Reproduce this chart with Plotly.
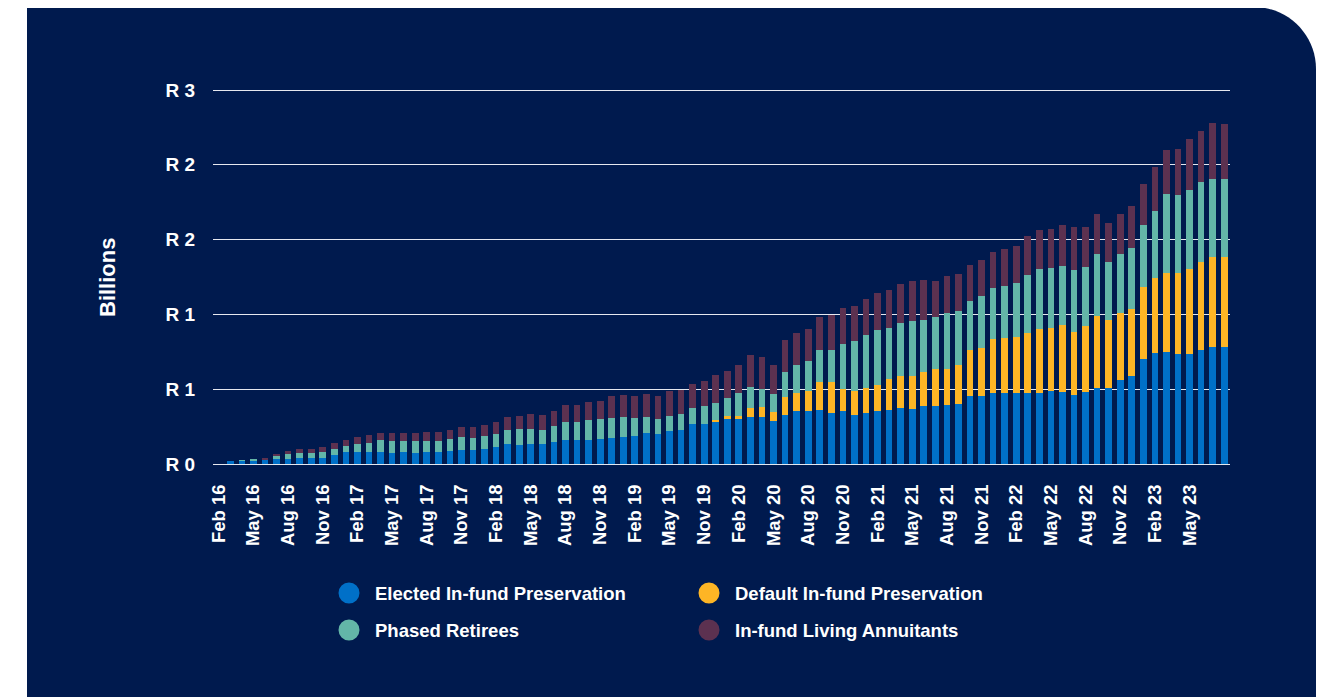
import plotly.graph_objects as go

# ---------------- data ----------------
month_names = ["Jan", "Feb", "Mar", "Apr", "May", "Jun", "Jul", "Aug", "Sep", "Oct", "Nov", "Dec"]
all_months = [f"{m} {y}" for y in range(16, 24) for m in month_names]
missing = ["Aug 19", "Sep 19", "Oct 19"]
categories = [c for c in all_months[all_months.index("Feb 16"):all_months.index("Aug 23") + 1] if c not in missing]

elected = [0, .022, .02, .02, .027, .033, .033, .042, .04, .042,
           .06, .082, .082, .082, .082, .076, .082, .076, .082, .082,
           .087, .091, .091, .098, .111, .131, .127, .131, .136, .147,
           .158, .158, .158, .165, .172, .18, .185, .205, .203, .221,
           .227, .265, .27, .287, .303, .307, .314, .314, .287, .325,
           .352, .357, .363, .343, .352, .325, .339, .352, .363, .377,
           .37, .39, .39, .397, .403, .457, .457, .472, .472, .477,
           .472, .477, .49, .483, .463, .483, .51, .51, .564, .59,
           .7, .744, .751, .738, .738, .764, .784, .784]

default = [0, 0, 0, 0, 0, 0, 0, 0, 0, 0,
           0, 0, 0, 0, 0, 0, 0, 0, 0, 0,
           0, 0, 0, 0, 0, 0, 0, 0, 0, 0,
           0, 0, 0, 0, 0, 0, 0, 0, 0, 0,
           0, 0, 0, .007, .016, .011, .058, .067, .058, .125,
           .125, .129, .187, .207, .149, .165, .172, .174, .207, .214,
           .221, .227, .247, .241, .261, .307, .321, .361, .368, .37,
           .401, .423, .417, .443, .417, .437, .477, .45, .443, .448,
           .486, .501, .528, .541, .564, .588, .602, .599]

phased = [0, 0, .005, .013, .004, .027, .033, .031, .033, .04,
          .04, .038, .053, .06, .078, .078, .071, .078, .071, .074,
          .078, .089, .082, .087, .087, .096, .107, .102, .094, .105,
          .12, .12, .136, .134, .134, .134, .12, .109, .098, .102,
          .107, .107, .118, .114, .12, .156, .14, .12, .12, .167,
          .187, .205, .214, .214, .303, .334, .348, .372, .341, .354,
          .368, .348, .348, .374, .361, .328, .348, .345, .352, .365,
          .392, .406, .406, .399, .419, .399, .419, .392, .399, .408,
          .414, .448, .528, .517, .528, .53, .521, .524]

annuitants = [0, 0, 0, 0, .01, .007, .02, .027, .027, .031,
              .042, .04, .045, .051, .049, .056, .056, .056, .06, .06,
              .062, .067, .073, .078, .082, .089, .089, .102, .1, .1,
              .116, .116, .12, .123, .147, .145, .152, .152, .154, .163,
              .16, .16, .167, .185, .18, .185, .214, .212, .2, .214,
              .214, .214, .221, .234, .241, .234, .247, .247, .254, .261,
              .261, .267, .241, .247, .247, .241, .241, .241, .247, .247,
              .261, .261, .261, .274, .287, .267, .267, .261, .267, .281,
              .274, .294, .294, .312, .341, .345, .374, .368]

series_names = ["Elected In-fund Preservation", "Default In-fund Preservation",
                "Phased Retirees", "In-fund Living Annuitants"]
series_colors = ["#0070C8", "#FDB525", "#63B6A8", "#5C3150"]

y_tickvals = [0, 0.5, 1.0, 1.5, 2.0, 2.5]
y_ticktext = ["R 0", "R 1", "R 1", "R 2", "R 2", "R 3"]
x_tickvals = categories[:85:3]

# ---------------- layout geometry (screen pixels; page body has an 8px margin) ----------------
OFF = 8
FW, FH = 1329 - OFF, 697 - OFF
L, R, T, B = 213, 1230, 88, 466          # plot area in screen pixels (range padded slightly)
W, H = R - L, B - T
NAVY = "#001A4E"
FONT = "Liberation Sans, Arial, sans-serif"


def px(x):
    return (x - L) / W


def py(y):
    return (B - y) / H


fig = go.Figure()
for name, vals, col in zip(series_names, [elected, default, phased, annuitants], series_colors):
    fig.add_trace(go.Bar(x=categories, y=vals, name=name, marker=dict(color=col, line=dict(width=0)),
                         showlegend=False))

# panel with rounded top-right corner
x0, x1, y0, y1, r = 27, 1316, 7, 720, 62
path = (f"M {px(x0)},{py(y1)} L {px(x0)},{py(y0)} L {px(x1 - r)},{py(y0)} "
        f"C {px(x1 - r * 0.45)},{py(y0)} {px(x1)},{py(y0 + r * 0.45)} {px(x1)},{py(y0 + r)} "
        f"L {px(x1)},{py(y1)} Z")
shapes = [dict(type="path", xref="paper", yref="paper", path=path, fillcolor=NAVY,
               line=dict(width=0), layer="below")]

annotations = [dict(text="Billions", xref="paper", yref="paper", x=px(107), y=py(278),
                    textangle=-90, showarrow=False, xanchor="center", yanchor="middle",
                    font=dict(family=FONT, size=22, color="white", weight="bold"))]

legend_pos = [(349, 593), (709, 593), (349, 630), (709, 630)]
for (cx, cy), name, col in zip(legend_pos, series_names, series_colors):
    rad = 10.5
    shapes.append(dict(type="circle", xref="paper", yref="paper",
                       x0=px(cx - rad), x1=px(cx + rad), y0=py(cy + rad), y1=py(cy - rad),
                       fillcolor=col, line=dict(width=0), layer="above"))
    annotations.append(dict(text=name, xref="paper", yref="paper", x=px(cx + 24), y=py(cy),
                            showarrow=False, xanchor="left", yanchor="middle",
                            font=dict(family=FONT, size=18.5, color="white", weight="bold")))

fig.update_layout(
    width=FW, height=FH,
    margin=dict(l=L - OFF, r=FW - (R - OFF), t=T - OFF, b=FH - (B - OFF), pad=0),
    paper_bgcolor="white", plot_bgcolor="rgba(0,0,0,0)",
    barmode="stack", bargap=0.42,
    shapes=shapes, annotations=annotations,
    font=dict(family=FONT, color="white"),
)
fig.update_xaxes(type="category", categoryorder="array", categoryarray=categories,
                 tickmode="array", tickvals=x_tickvals, ticktext=x_tickvals,
                 tickangle=-90, showgrid=False, zeroline=False, showline=False,
                 ticks="outside", ticklen=10, tickcolor="rgba(0,0,0,0)",
                 tickfont=dict(family=FONT, size=18.5, color="white", weight="bold"))
fig.update_yaxes(range=[-0.0134, 2.5134], tickmode="array", tickvals=y_tickvals, ticktext=y_ticktext,
                 showgrid=True, gridcolor="#E6E8EF", gridwidth=1.3, zeroline=False, showline=False,
                 ticks="outside", ticklen=13, tickcolor="rgba(0,0,0,0)",
                 tickfont=dict(family=FONT, size=19, color="white", weight="bold"))

fig.write_html("out.html")
